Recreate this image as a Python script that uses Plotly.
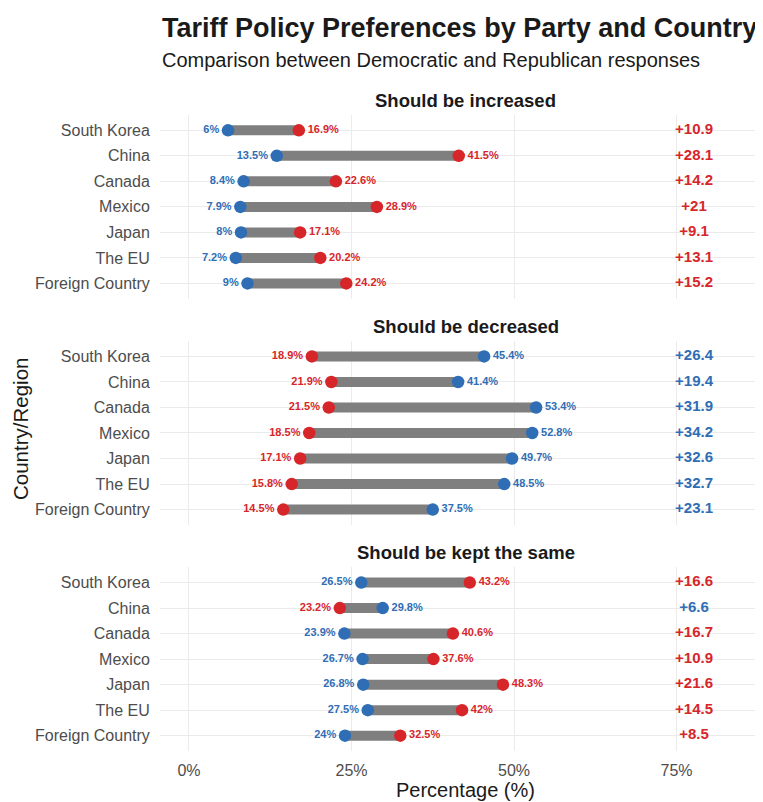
import plotly.graph_objects as go
from plotly.subplots import make_subplots

countries = ["South Korea", "China", "Canada", "Mexico", "Japan", "The EU", "Foreign Country"]
panels = ["Should be increased", "Should be decreased", "Should be kept the same"]

dem_increased = [6, 13.5, 8.4, 7.9, 8, 7.2, 9]
rep_increased = [16.9, 41.5, 22.6, 28.9, 17.1, 20.2, 24.2]
gap_increased = [10.9, 28.1, 14.2, 21, 9.1, 13.1, 15.2]

dem_decreased = [45.4, 41.4, 53.4, 52.8, 49.7, 48.5, 37.5]
rep_decreased = [18.9, 21.9, 21.5, 18.5, 17.1, 15.8, 14.5]
gap_decreased = [26.4, 19.4, 31.9, 34.2, 32.6, 32.7, 23.1]

dem_same = [26.5, 29.8, 23.9, 26.7, 26.8, 27.5, 24]
rep_same = [43.2, 23.2, 40.6, 37.6, 48.3, 42, 32.5]
gap_same = [16.6, 6.6, 16.7, 10.9, 21.6, 14.5, 8.5]

x_ticks = [0, 25, 50, 75]
x_tick_labels = ["0%", "25%", "50%", "75%"]

BLUE = "#2F6DB5"
RED = "#D7262A"
GREY = "#7F7F7F"
FONT = "Liberation Sans"

data = [(dem_increased, rep_increased, gap_increased),
        (dem_decreased, rep_decreased, gap_decreased),
        (dem_same, rep_same, gap_same)]

fig = make_subplots(rows=3, cols=1, shared_xaxes=True, vertical_spacing=0.0666)

for r, (dem, rep, gap) in enumerate(data, start=1):
    # grey dumbbell segments
    for c, d, p in zip(countries, dem, rep):
        fig.add_trace(go.Scatter(x=[d, p], y=[c, c], mode="lines",
                                 line=dict(color=GREY, width=10),
                                 hoverinfo="skip", showlegend=False), row=r, col=1)
    dem_pos = ["middle left" if d < p else "middle right" for d, p in zip(dem, rep)]
    rep_pos = ["middle right" if p > d else "middle left" for d, p in zip(dem, rep)]
    fig.add_trace(go.Scatter(x=dem, y=countries, mode="markers+text",
                             marker=dict(color=BLUE, size=12.5),
                             text=[f"{v:g}%" for v in dem], textposition=dem_pos,
                             textfont=dict(color=BLUE, size=11, family=FONT, weight="bold"),
                             showlegend=False), row=r, col=1)
    fig.add_trace(go.Scatter(x=rep, y=countries, mode="markers+text",
                             marker=dict(color=RED, size=12.5),
                             text=[f"{v:g}%" for v in rep], textposition=rep_pos,
                             textfont=dict(color=RED, size=11, family=FONT, weight="bold"),
                             showlegend=False), row=r, col=1)
    gap_colors = [RED if p > d else BLUE for d, p in zip(dem, rep)]
    fig.add_trace(go.Scatter(x=[77.7] * len(countries), y=countries, mode="text",
                             text=[f"+{v:g}" for v in gap], textposition="middle center",
                             textfont=dict(color=gap_colors, size=15, family=FONT, weight="bold"),
                             hoverinfo="skip", showlegend=False), row=r, col=1)

    fig.update_yaxes(row=r, col=1, type="category",
                     categoryorder="array", categoryarray=countries[::-1],
                     range=[-0.6, 6.6], showgrid=True, gridcolor="#EBEBEB", gridwidth=1,
                     zeroline=False, showline=False,
                     ticks="outside", ticklen=6, tickcolor="rgba(0,0,0,0)",
                     tickfont=dict(size=16, color="#4D4D4D", family=FONT))
    fig.update_xaxes(row=r, col=1, range=[-4.46, 88.3], tickvals=x_ticks, ticktext=x_tick_labels,
                     showgrid=True, gridcolor="#EBEBEB", gridwidth=1,
                     zeroline=False, showline=False,
                     ticks="outside", ticklen=5, tickcolor="rgba(0,0,0,0)",
                     tickfont=dict(size=16, color="#4D4D4D", family=FONT))

# facet titles
domains = [fig.layout.yaxis.domain, fig.layout.yaxis2.domain, fig.layout.yaxis3.domain]
for name, dom in zip(panels, domains):
    fig.add_annotation(text=f"<b>{name}</b>", xref="paper", yref="paper",
                       x=0.5, xshift=4, y=dom[1], xanchor="center", yanchor="middle", yshift=15,
                       showarrow=False, font=dict(size=18.5, color="#1A1A1A", family=FONT))

fig.add_annotation(text="<b>Tariff Policy Preferences by Party and Country</b>",
                   xref="paper", yref="paper", x=0, y=1, yshift=87,
                   xanchor="left", yanchor="middle", showarrow=False,
                   font=dict(size=27, color="#1A1A1A", family=FONT))
fig.add_annotation(text="Comparison between Democratic and Republican responses",
                   xref="paper", yref="paper", x=0, y=1, yshift=55,
                   xanchor="left", yanchor="middle", showarrow=False,
                   font=dict(size=20, color="#1A1A1A", family=FONT))
fig.add_annotation(text="Percentage (%)", xref="paper", yref="paper",
                   x=0.5, xshift=4, y=0, yshift=-39,
                   xanchor="center", yanchor="middle", showarrow=False,
                   font=dict(size=20, color="#1A1A1A", family=FONT))
fig.add_annotation(text="Country/Region", xref="paper", yref="paper",
                   x=0, xshift=-140, y=0.5, yshift=4, textangle=-90,
                   xanchor="center", yanchor="middle", showarrow=False,
                   font=dict(size=20.5, color="#1A1A1A", family=FONT))

fig.update_layout(width=755, height=794,
                  margin=dict(l=152, r=0, t=107, b=51),
                  plot_bgcolor="white", paper_bgcolor="white",
                  font=dict(family=FONT))

fig.write_html("out.html")
